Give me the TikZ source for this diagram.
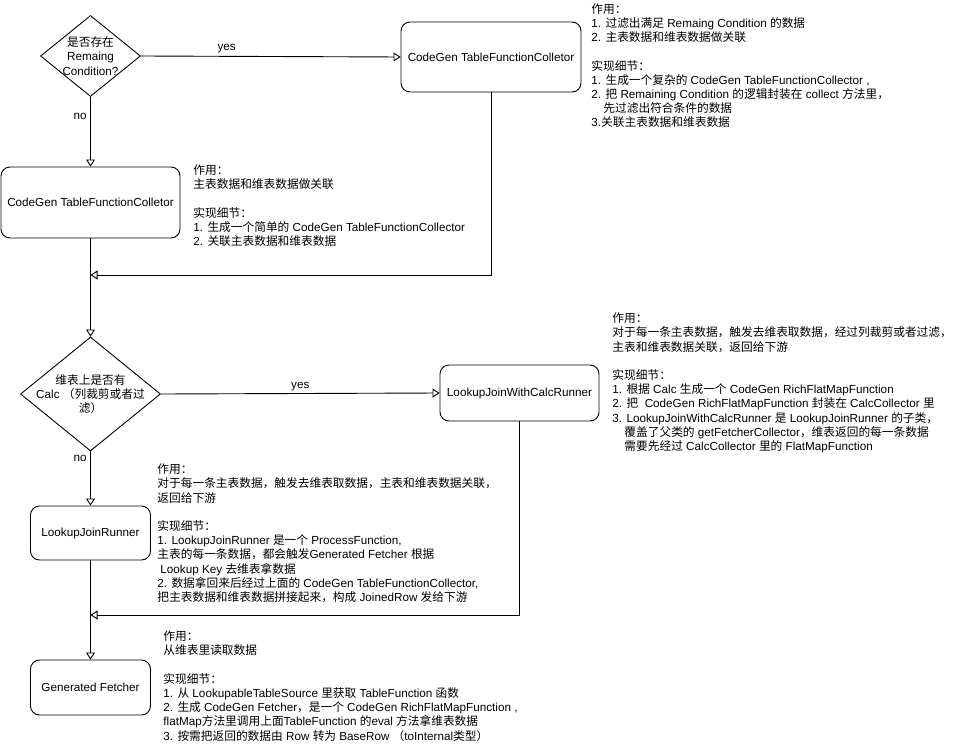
\documentclass[tikz,border=0pt]{standalone}
\usepackage{fontspec}
\setmainfont{Liberation Sans}
\newfontfamily\cjkfont{Noto Sans CJK SC}
\usetikzlibrary{arrows.meta,shapes.geometric}
\XeTeXinterchartokenstate=1
\newXeTeXintercharclass\cjkclass
\newcount\cjkcode
\def\setcjkrange#1#2{\cjkcode=#1\relax
  \loop \XeTeXcharclass\cjkcode=\cjkclass \advance\cjkcode by 1 \ifnum\cjkcode<#2 \repeat}
\setcjkrange{"3000}{"3040}
\setcjkrange{"4E00}{"A000}
\setcjkrange{"FF00}{"FFF0}
\XeTeXinterchartoks 0 \cjkclass={\begingroup\cjkfont}
\XeTeXinterchartoks 4095 \cjkclass={\begingroup\cjkfont}
\XeTeXinterchartoks \cjkclass 0={\endgroup}
\XeTeXinterchartoks \cjkclass 4095={\endgroup}

\begin{document}
\begin{tikzpicture}[x=1pt,y=-1pt,line width=0.9pt,
  every node/.style={font=\fontsize{11.7}{14.2}\selectfont},
  proc/.style={draw,rounded corners=9pt,align=center},
  decision/.style={draw,diamond,inner sep=0pt},
  note/.style={anchor=north west,align=left,inner sep=0pt},
  flow/.style={-{Triangle[open,length=7pt,width=9pt]}},
  lbl/.style={inner sep=0pt}]
\useasboundingbox (0,0) rectangle (971,746);
\node[decision,minimum width=100pt,minimum height=81pt] (cond) at (90.5,56) {};
\node[align=center,inner sep=0pt] (condtext) at (cond) {是否存在\\Remaing\\Condition?};
\node[proc,minimum width=180pt,minimum height=70pt] (fullcoll) at (491,57) {CodeGen TableFunctionColletor};
\node[proc,minimum width=179pt,minimum height=71pt] (simplecoll) at (90.5,202.5) {CodeGen TableFunctionColletor};
\node[decision,minimum width=140pt,minimum height=114pt] (calc) at (90.5,394) {};
\node[align=center,inner sep=0pt] (calctext) at (calc) {维表上是否有\\Calc （列裁剪或者过\\滤）};
\node[proc,minimum width=159pt,minimum height=56pt] (calcrunner) at (519.5,393) {LookupJoinWithCalcRunner};
\node[proc,minimum width=120pt,minimum height=54pt] (runner) at (90.5,533) {LookupJoinRunner};
\node[proc,minimum width=120pt,minimum height=55pt] (fetcher) at (90.5,687.5) {Generated Fetcher};
\coordinate (merge1) at (90.5,275);
\coordinate (merge2) at (90.5,615);
\draw[flow] (cond.east) -- node[lbl,above=2.5pt,pos=0.33] (yes1) {yes} (fullcoll.west);
\draw[flow] (cond.south) -- node[lbl,left=3.5pt,pos=0.28] (no1) {no} (simplecoll.north);
\draw[flow] (fullcoll.south) |- (merge1);
\draw[flow] (simplecoll.south) -- (calc.north);
\draw[flow] (calc.east) -- node[lbl,above=2.5pt] (yes2) {yes} (calcrunner.west);
\draw[flow] (calc.south) -- node[lbl,left=3.5pt,pos=0.13] (no2) {no} (runner.north);
\draw[flow] (calcrunner.south) |- (merge2);
\draw[flow] (runner.south) -- (fetcher.north);
\node[note] (fullnote) at (591,3) {作用：\\1. 过滤出满足 Remaing Condition 的数据\\2. 主表数据和维表数据做关联\\[14.2pt]实现细节：\\1. 生成一个复杂的 CodeGen TableFunctionCollector ,\\2. 把 Remaining Condition 的逻辑封装在 collect 方法里，\\\hspace*{12pt}先过滤出符合条件的数据\\3.关联主表数据和维表数据};
\node[note] (simplenote) at (193,164.5) {作用：\\主表数据和维表数据做关联\\[14.2pt]实现细节：\\1. 生成一个简单的 CodeGen TableFunctionCollector\\2. 关联主表数据和维表数据};
\node[note] (calcnote) at (612,312.5) {作用：\\对于每一条主表数据，触发去维表取数据，经过列裁剪或者过滤，\\主表和维表数据关联，返回给下游\\[14.2pt]实现细节：\\1. 根据 Calc 生成一个 CodeGen RichFlatMapFunction\\2. 把\ \ CodeGen RichFlatMapFunction 封装在 CalcCollector 里\\3. LookupJoinWithCalcRunner 是 LookupJoinRunner 的子类，\\\hspace*{12pt}覆盖了父类的 getFetcherCollector，维表返回的每一条数据\\\hspace*{12pt}需要先经过 CalcCollector 里的 FlatMapFunction};
\node[note] (runnernote) at (157,463.5) {作用：\\对于每一条主表数据，触发去维表取数据，主表和维表数据关联，\\返回给下游\\[14.2pt]实现细节：\\1. LookupJoinRunner 是一个 ProcessFunction,\\主表的每一条数据，都会触发Generated Fetcher 根据\\\hspace*{3pt}Lookup Key 去维表拿数据\\2. 数据拿回来后经过上面的 CodeGen TableFunctionCollector,\\把主表数据和维表数据拼接起来，构成 JoinedRow 发给下游};
\node[note] (fetchernote) at (163,630.5) {作用：\\从维表里读取数据\\[14.2pt]实现细节：\\1. 从 LookupableTableSource 里获取 TableFunction 函数\\2. 生成 CodeGen Fetcher，是一个 CodeGen RichFlatMapFunction ,\\flatMap方法里调用上面TableFunction 的eval 方法拿维表数据\\3. 按需把返回的数据由 Row 转为 BaseRow （toInternal类型）};
\end{tikzpicture}
\end{document}
